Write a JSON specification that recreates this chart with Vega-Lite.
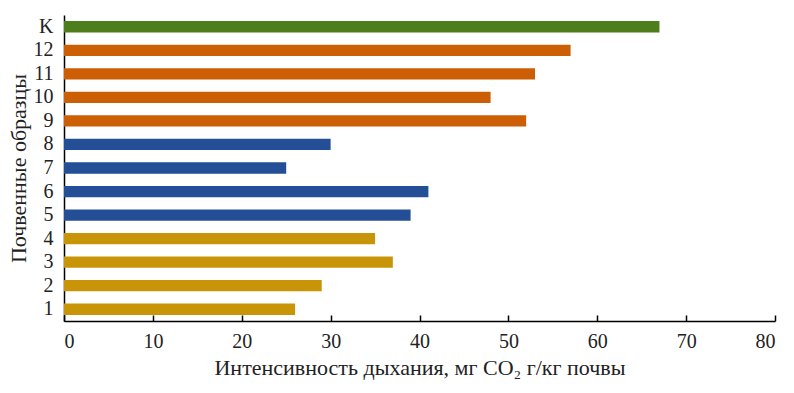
{
  "$schema": "https://vega.github.io/schema/vega-lite/v6.json",
  "autosize": {"type": "none"},
  "padding": {"left": 64, "top": 15, "right": 19, "bottom": 72},
  "width": 711,
  "height": 306,
  "background": "white",
  "config": {
    "view": {"stroke": null},
    "font": "Liberation Serif",
    "axis": {"grid": false, "domainColor": "black", "tickColor": "black", "labelColor": "#222", "titleColor": "#222", "labelFont": "Liberation Serif", "titleFont": "Liberation Serif", "titleFontWeight": "normal", "labelFontSize": 20, "titleFontSize": 22, "domainWidth": 1.5, "tickWidth": 1.5}
  },
  "data": {
    "values": [
      {"sample": "K", "value": 67, "group": "control", "order": 0},
      {"sample": "12", "value": 57, "group": "c", "order": 1},
      {"sample": "11", "value": 53, "group": "c", "order": 2},
      {"sample": "10", "value": 48, "group": "c", "order": 3},
      {"sample": "9", "value": 52, "group": "c", "order": 4},
      {"sample": "8", "value": 30, "group": "b", "order": 5},
      {"sample": "7", "value": 25, "group": "b", "order": 6},
      {"sample": "6", "value": 41, "group": "b", "order": 7},
      {"sample": "5", "value": 39, "group": "b", "order": 8},
      {"sample": "4", "value": 35, "group": "a", "order": 9},
      {"sample": "3", "value": 37, "group": "a", "order": 10},
      {"sample": "2", "value": 29, "group": "a", "order": 11},
      {"sample": "1", "value": 26, "group": "a", "order": 12}
    ]
  },
  "mark": {"type": "bar"},
  "encoding": {
    "y": {
      "field": "sample", "type": "nominal",
      "sort": {"field": "order", "order": "ascending"},
      "scale": {"paddingInner": 0.52, "paddingOuter": 0.26},
      "axis": {"title": "Почвенные образцы", "ticks": false, "labelPadding": 11, "titlePadding": 3, "labelAngle": 0}
    },
    "x": {
      "field": "value", "type": "quantitative",
      "scale": {"domain": [0, 80], "nice": false},
      "axis": {"title": "Интенсивность дыхания, мг CO₂ г/кг почвы", "values": [0, 10, 20, 30, 40, 50, 60, 70, 80], "tickSize": -6, "labelPadding": 16, "titlePadding": 6}
    },
    "color": {
      "field": "group", "type": "nominal", "legend": null,
      "scale": {"domain": ["control", "c", "b", "a"], "range": ["#4e7d1e", "#cc5f06", "#244f96", "#c99508"]}
    }
  }
}
